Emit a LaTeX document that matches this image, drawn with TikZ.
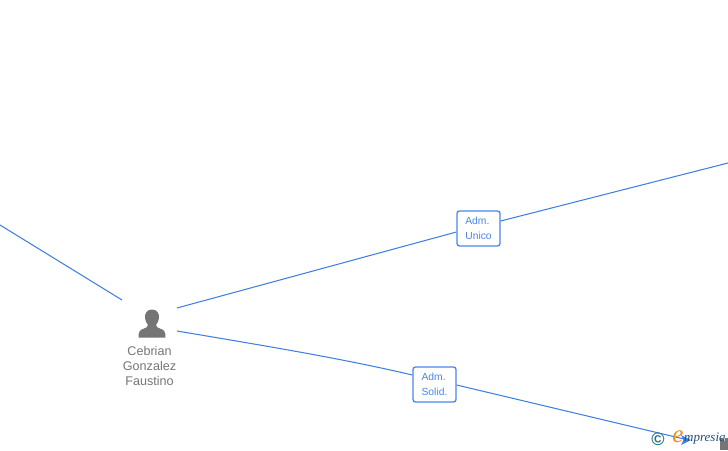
\documentclass[tikz,border=0pt]{standalone}
\usepackage{fontspec}
\setmainfont{Liberation Sans}
\newfontfamily\wmfont{Liberation Serif}
\definecolor{linkblue}{HTML}{3F7FE0}
\definecolor{boxblue}{HTML}{4A86E8}
\definecolor{persongrey}{HTML}{757575}
\definecolor{wmteal}{HTML}{2F7088}
\definecolor{wmorange}{HTML}{F28C1E}
\definecolor{wmnavy}{HTML}{1F4E79}
\tikzset{
  link/.style={draw=linkblue,line width=1.05pt},
  rolebox/.style={draw=boxblue,line width=1.3pt,rounded corners=2.5pt,fill=white,minimum width=43pt,minimum height=35pt,inner sep=0pt,align=left,text=boxblue,font=\fontsize{10.3}{15}\selectfont},
  personlabel/.style={align=center,text=persongrey,inner sep=0pt,font=\fontsize{12.6}{15}\selectfont}
}
\begin{document}
\begin{tikzpicture}[x=1pt,y=-1pt]
\useasboundingbox (0,0) rectangle (728,450);
% free ends
\coordinate (leftEnd) at (0,225);
\coordinate (personNW) at (122,300);
\coordinate (personNE) at (177,308);
\coordinate (personSE) at (177,331);
\coordinate (rightEnd) at (728,163);
\coordinate (lowerEnd) at (684,439);
% role boxes
\node[rolebox] (unico) at (478.5,228.5) {\raisebox{-0.7pt}{Adm.}\\\raisebox{-0.7pt}{Unico}};
\node[rolebox] (solid) at (434.5,384.5) {\raisebox{-0.7pt}{Adm.}\\\raisebox{-0.7pt}{Solid.}};
% connectors
\draw[link] (leftEnd) -- (personNW);
\draw[link] (personNE) -- ([yshift=-3.5pt]unico.west);
\draw[link] ([yshift=7.5pt]unico.east) -- (rightEnd);
\draw[link] (personSE) .. controls (260,345) and (340,358) .. ([yshift=9.5pt]solid.west);
\draw[link] ([yshift=-0.5pt]solid.east) -- (lowerEnd);
% person icon
\fill[persongrey] (152,309.5) .. controls (147,309.5) and (144.6,313.5) .. (145,318)
  .. controls (145.3,321) and (146.5,323) .. (148,325)
  .. controls (148,327) and (146,328) .. (143,329)
  .. controls (139.5,330.2) and (138.5,332) .. (138.5,337.5)
  -- (165.5,337.5)
  .. controls (165.5,332) and (164.5,330.2) .. (161,329)
  .. controls (158,328) and (156,327) .. (156,325)
  .. controls (157.5,323) and (158.7,321) .. (159,318)
  .. controls (159.4,313.5) and (157,309.5) .. (152,309.5) -- cycle;
\node[personlabel] (person) at (149.5,366) {Cebrian\\Gonzalez\\Faustino};
% watermark
\fill[persongrey] (720,438) rectangle (728,450);
\fill[white] (723,438) rectangle (725,441);
\node[inner sep=0pt,text=wmteal,font=\bfseries\fontsize{18}{18}\selectfont] (wmc) at (658,439) {©};
\node[inner sep=0pt,text=wmorange,font=\wmfont\fontsize{25}{25}\selectfont\itshape] (wme) at (678,437) {e};
\fill[linkblue] (681,435) -- (691,440) -- (681,445) -- (683.5,440) -- cycle;
\node[inner sep=0pt,anchor=west,text=wmnavy,font=\wmfont\fontsize{13}{13}\selectfont\itshape] (wmt) at (684,438.5) {mpresia};
\end{tikzpicture}
\end{document}
